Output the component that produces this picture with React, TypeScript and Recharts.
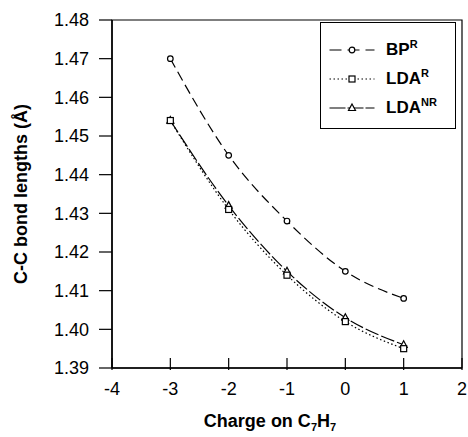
import React from "react";
import { LineChart, Line, XAxis, YAxis, Legend, ReferenceArea } from "recharts";

const charge = [-3, -2, -1, 0, 1];
const bpR = [1.47, 1.445, 1.428, 1.415, 1.408];
const ldaR = [1.454, 1.431, 1.414, 1.402, 1.395];
const ldaNR = [1.454, 1.432, 1.415, 1.403, 1.396];
const xTicks = [-4, -3, -2, -1, 0, 1, 2];
const yTicks = [1.39, 1.4, 1.41, 1.42, 1.43, 1.44, 1.45, 1.46, 1.47, 1.48];

const FONT = "'Liberation Sans', Arial, Helvetica, sans-serif";

const data = charge.map((c, i) => ({ charge: c, bpR: bpR[i], ldaR: ldaR[i], ldaNR: ldaNR[i] }));

const circleDot = (p: any) => (
  <circle key={`c${p.index}`} cx={p.cx} cy={p.cy} r={2.8} fill="#fff" stroke="#000" strokeWidth={1.2} />
);
const squareDot = (p: any) => (
  <rect key={`s${p.index}`} x={p.cx - 3} y={p.cy - 3} width={6} height={6} fill="#fff" stroke="#000" strokeWidth={1.2} />
);
const triDot = (p: any) => (
  <path
    key={`t${p.index}`}
    d={`M${p.cx},${p.cy - 4} L${p.cx + 3.5},${p.cy + 2.5} L${p.cx - 3.5},${p.cy + 2.5} Z`}
    fill="#fff"
    stroke="#000"
    strokeWidth={1.2}
  />
);

const series = [
  { name: "BP", sup: "R", dash: "12 6", marker: "circle" },
  { name: "LDA", sup: "R", dash: "1.5 2.5", marker: "square" },
  { name: "LDA", sup: "NR", dash: "16 2", marker: "triangle" },
];

function LegendBox() {
  return (
    <div
      style={{
        boxSizing: "border-box",
        width: 136,
        height: 107,
        border: "1.5px solid #000",
        background: "#fff",
        paddingTop: 12,
        fontFamily: FONT,
      }}
    >
      {series.map((s) => (
        <div key={s.name + s.sup} style={{ display: "flex", alignItems: "center", height: 29 }}>
          <svg width={65} height={14} style={{ display: "block" }}>
            <line x1={8.5} x2={53.5} y1={7} y2={7} stroke="#000" strokeWidth={1.2} strokeDasharray={s.dash} />
            {s.marker === "circle" && <circle cx={31} cy={7} r={2.8} fill="#fff" stroke="#000" strokeWidth={1.2} />}
            {s.marker === "square" && <rect x={28} y={4} width={6} height={6} fill="#fff" stroke="#000" strokeWidth={1.2} />}
            {s.marker === "triangle" && (
              <path d="M31,3 L34.5,9.5 L27.5,9.5 Z" fill="#fff" stroke="#000" strokeWidth={1.2} />
            )}
          </svg>
          <span style={{ fontWeight: "bold", fontSize: 17, color: "#000", whiteSpace: "nowrap" }}>
            {s.name}
            <span style={{ fontSize: 11, position: "relative", top: -7 }}>{s.sup}</span>
          </span>
        </div>
      ))}
    </div>
  );
}

const XTick = (p: any) => {
  const { x, y, payload } = p;
  return (
    <g>
      <line x1={x} x2={x} y1={y} y2={y - 12} stroke="#000" strokeWidth={1.2} />
      <text x={x} y={y + 12} dy="0.71em" textAnchor="middle" fontSize={18} fontFamily={FONT} fill="#000">
        {payload.value}
      </text>
    </g>
  );
};

const YTitle = (p: any) => {
  const vb = p.viewBox;
  const cx = vb.x + 21;
  const cy = vb.y + vb.height / 2;
  return (
    <text
      x={cx}
      y={cy}
      transform={`rotate(-90 ${cx} ${cy})`}
      textAnchor="middle"
      dominantBaseline="central"
      fontSize={18}
      fontWeight="bold"
      fontFamily={FONT}
      fill="#000"
    >
      C-C bond lengths (Å)
    </text>
  );
};

const XTitle = (p: any) => {
  const vb = p.viewBox;
  const cx = vb.x + vb.width / 2 - 17;
  const cy = vb.y + 59;
  return (
    <text x={cx} y={cy} textAnchor="middle" fontSize={18} fontWeight="bold" fontFamily={FONT} fill="#000">
      Charge on C<tspan dy={4} fontSize={11}>7</tspan>
      <tspan dy={-4}>H</tspan>
      <tspan dy={4} fontSize={11}>7</tspan>
    </text>
  );
};

export default function App() {
  return (
    <div style={{ position: "absolute", left: 0, top: 0, width: 468, height: 437, background: "#fff" }}>
      <LineChart width={468} height={437} data={data} margin={{ top: 20, right: 6, bottom: 0, left: 0 }}>
        <XAxis
          dataKey="charge"
          type="number"
          domain={[-4, 2]}
          ticks={xTicks}
          height={69}
          tickSize={0}
          tickLine={false}
          tick={<XTick />}
          axisLine={{ stroke: "#000", strokeWidth: 1.5 }}
          label={<XTitle />}
          allowDataOverflow
        />
        <YAxis
          type="number"
          domain={[1.39, 1.48]}
          ticks={yTicks}
          width={112}
          tickSize={13}
          tickMargin={10}
          tickFormatter={(v: number) => v.toFixed(2)}
          tick={{ fontSize: 18, fontFamily: FONT, fill: "#000" }}
          tickLine={{ stroke: "#000", strokeWidth: 1.2 }}
          axisLine={{ stroke: "#000", strokeWidth: 1.5 }}
          label={<YTitle />}
          allowDataOverflow
        />
        <ReferenceArea x1={-4} x2={2} y1={1.39} y2={1.48} fill="none" stroke="#000" strokeWidth={1.2} />
        <Line
          dataKey="ldaNR"
          type="monotone"
          stroke="#000"
          strokeWidth={1.2}
          strokeDasharray="14 3"
          dot={triDot}
          isAnimationActive={false}
        />
        <Line
          dataKey="ldaR"
          type="monotone"
          stroke="#000"
          strokeWidth={1.2}
          strokeDasharray="1.5 2.5"
          dot={squareDot}
          isAnimationActive={false}
        />
        <Line
          dataKey="bpR"
          type="monotone"
          stroke="#000"
          strokeWidth={1.2}
          strokeDasharray="10 5"
          dot={circleDot}
          isAnimationActive={false}
        />
        <Legend
          layout="vertical"
          align="center"
          verticalAlign="middle"
          content={<LegendBox />}
          wrapperStyle={{ left: 320, top: 22, width: 136, height: 107 }}
        />
      </LineChart>
    </div>
  );
}
